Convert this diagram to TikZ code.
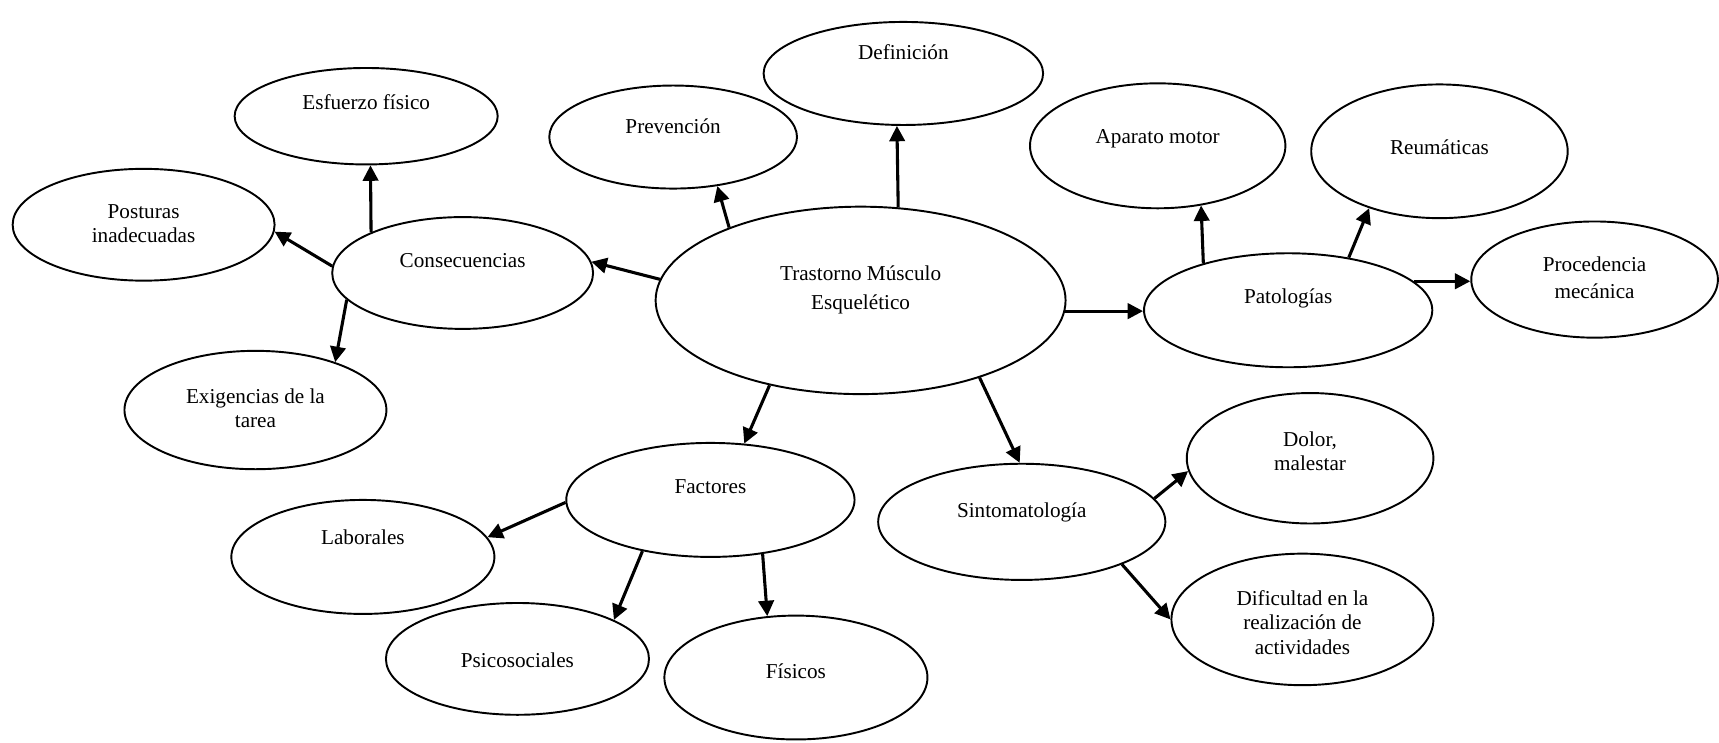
\documentclass[tikz,border=0pt]{standalone}
\usepackage{fontspec}
\setmainfont{Liberation Serif}
\usetikzlibrary{shapes.geometric,arrows.meta}

\newcommand{\inside}[2]{\raisebox{#1}[0pt][0pt]{\begin{tabular}{@{}c@{}}#2\end{tabular}}}

\begin{document}
\begin{tikzpicture}[x=0.02cm, y=-0.02cm,
    bubble/.style 2 args={ellipse, draw, line width=1pt, minimum width=#1, minimum height=#2, inner sep=0pt, font=\fontsize{11}{12.5}\selectfont},
    link/.style={-{Triangle[length=8pt,width=8pt]}, line width=1.6pt}]
  \useasboundingbox (0,0) rectangle (1568,677);
  % centro
  \node[bubble={7.48cm}{3.42cm}] (tme) at (785,274) {\inside{0.09cm}{Trastorno Músculo\\[2.9pt]Esquelético}};
  \node[bubble={5.10cm}{1.88cm}] (def) at (824,67) {\inside{0.24cm}{Definición}};
  \node[bubble={4.52cm}{1.88cm}] (prev) at (614,125) {\inside{0.06cm}{Prevención}};
  % consecuencias
  \node[bubble={4.76cm}{2.04cm}] (cons) at (422,249) {\inside{0.10cm}{Consecuencias}};
  \node[bubble={4.80cm}{1.76cm}] (esf) at (334,106) {\inside{0.12cm}{Esfuerzo físico}};
  \node[bubble={4.78cm}{2.04cm}] (post) at (131,205) {\inside{-0.11cm}{Posturas\\inadecuadas}};
  \node[bubble={4.78cm}{2.16cm}] (exig) at (233,374) {\inside{-0.10cm}{Exigencias de la\\tarea}};
  % patologias
  \node[bubble={5.26cm}{2.08cm}] (pat) at (1175,283) {\inside{0.12cm}{Patologías}};
  \node[bubble={4.66cm}{2.28cm}] (apar) at (1056,133) {\inside{0.04cm}{Aparato motor}};
  \node[bubble={4.68cm}{2.44cm}] (reum) at (1313,138) {\inside{-0.06cm}{Reumáticas}};
  \node[bubble={4.50cm}{2.12cm}] (proc) at (1454.5,255) {\inside{-0.11cm}{Procedencia\\[1.7pt]mecánica}};
  % factores
  \node[bubble={5.26cm}{2.08cm}] (fac) at (648,456) {\inside{0.10cm}{Factores}};
  \node[bubble={4.80cm}{2.08cm}] (lab) at (331,508) {\inside{0.22cm}{Laborales}};
  \node[bubble={4.80cm}{2.04cm}] (psi) at (472,601) {\inside{-0.16cm}{Psicosociales}};
  \node[bubble={4.80cm}{2.26cm}] (fis) at (726,618) {\inside{-0.02cm}{Físicos}};
  % sintomatologia
  \node[bubble={5.24cm}{2.12cm}] (sint) at (932,476) {\inside{0.08cm}{Sintomatología}};
  \node[bubble={4.50cm}{2.38cm}] (dolor) at (1195,418) {\inside{-0.01cm}{Dolor,\\malestar}};
  \node[bubble={4.78cm}{2.40cm}] (dif) at (1188,565) {\inside{-0.20cm}{Dificultad en la\\realización de\\actividades}};

  \draw[link] (tme.68) -- (def.263);
  \draw[link] (tme.151) -- (prev.312);
  \draw[link] (tme.174) -- (cons.5);
  \draw[link] (cons.156) -- (esf.275);
  \draw[link] (cons.177) -- (post.357);
  \draw[link] (cons.193) -- (exig.31);
  \draw[link] (tme.357) -- (tme.357 -| pat.west);
  \draw[link] (pat.151) -- (apar.306);
  \draw[link] (pat.41) -- (reum.219);
  \draw[link] (pat.13) -- (pat.13 -| proc.west);
  \draw[link] (tme.223) -- (fac.59);
  \draw[link] (tme.327) -- (sint.92);
  \draw[link] (fac.181) -- (lab.9);
  \draw[link] (fac.217) -- (psi.22);
  \draw[link] (fac.314) -- (fis.115);
  \draw[link] (sint.10) -- (dolor.186);
  \draw[link] (sint.337) -- (dif.180);
\end{tikzpicture}
\end{document}
